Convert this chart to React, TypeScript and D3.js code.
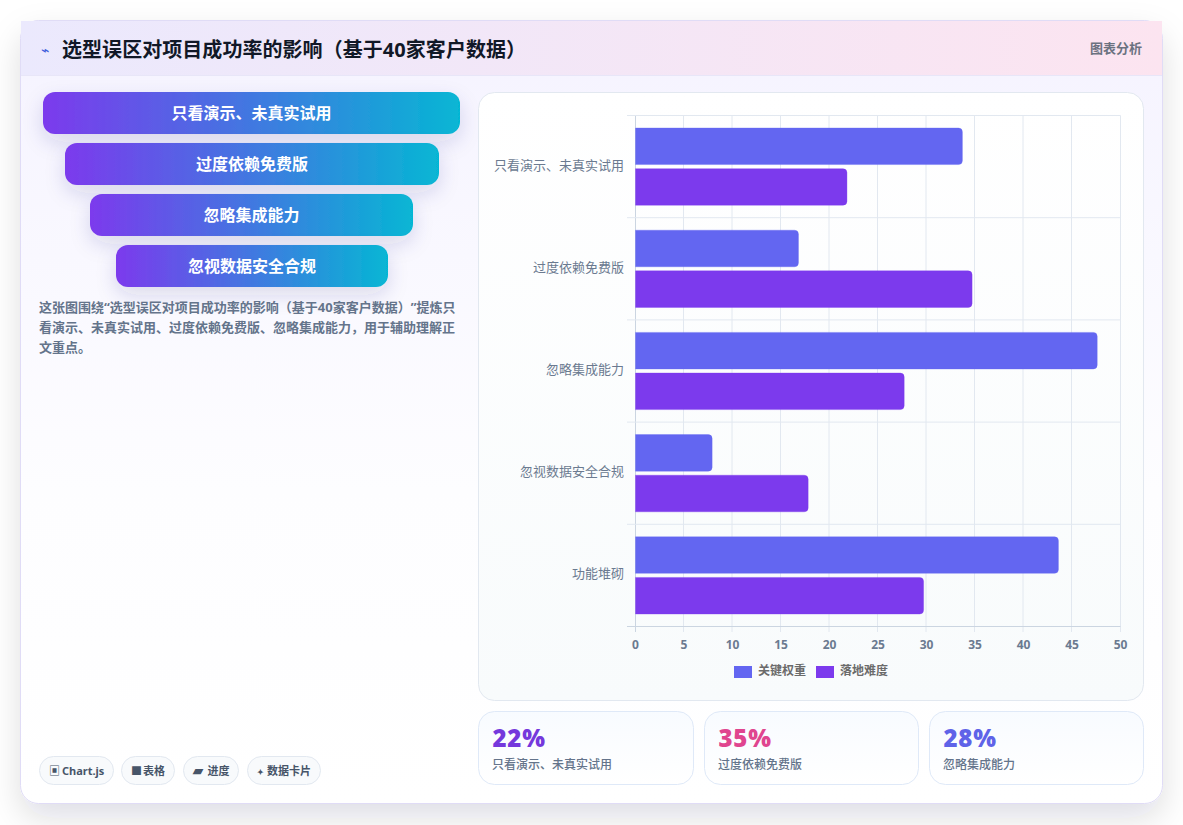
import React from "react";
import * as d3 from "d3";

const categories = ["只看演示、未真实试用", "过度依赖免费版", "忽略集成能力", "忽视数据安全合规", "功能堆砌"];
const seriesNames = ["关键权重", "落地难度"];
const weightValues = [33.7, 16.8, 47.6, 7.9, 43.6];
const difficultyValues = [21.8, 34.7, 27.7, 17.8, 29.7];
const seriesColors = ["#6366f1", "#7c3aed"];
const xTicks = [0, 5, 10, 15, 20, 25, 30, 35, 40, 45, 50];
const funnelLabels = ["只看演示、未真实试用", "过度依赖免费版", "忽略集成能力", "忽视数据安全合规"];
const funnelBoxes = [[43, 417], [65, 374], [90, 323], [116, 272]];
const statValues = ["22%", "35%", "28%"];
const statLabels = ["只看演示、未真实试用", "过度依赖免费版", "忽略集成能力"];
const statColors = ["#7538dc", "#e0458f", "#5f63e8"];
const statBoxes = [[478.5, 215], [704.5, 214], [929.5, 214]];
const chips = [
  { icon: "▣", iconSize: 11, text: "Chart.js", x: 39, w: 74, ix: 49, tx: 62 },
  { icon: "■", iconSize: 11, text: "表格", x: 121, w: 53, ix: 131, tx: 143 },
  { icon: "▰", iconSize: 13, text: "进度", x: 183, w: 55, ix: 193, tx: 207.5 },
  { icon: "✦", iconSize: 8, text: "数据卡片", x: 247, w: 73, ix: 257, tx: 267 },
];
const descLines = [
  "这张图围绕“选型误区对项目成功率的影响（基于40家客户数据）”提炼只",
  "看演示、未真实试用、过度依赖免费版、忽略集成能力，用于辅助理解正",
  "文重点。",
];

const FONT = "'Noto Sans', 'Noto Sans CJK SC', sans-serif";

export default function App() {
  const x = d3.scaleLinear().domain([0, 50]).range([635.5, 1120.5]);
  const y = d3.scaleBand<string>().domain(categories).range([115.5, 626.5]);
  const inner = d3.scaleBand<string>().domain(seriesNames).range([12.5, y.bandwidth() - 12.5]).paddingInner(0.1);
  const values = [weightValues, difficultyValues];
  const barPath = (x0: number, x1: number, yy: number, h: number) => {
    const r = 4;
    return `M${x0},${yy}H${x1 - r}Q${x1},${yy} ${x1},${yy + r}V${yy + h - r}Q${x1},${yy + h} ${x1 - r},${yy + h}H${x0}Z`;
  };
  return (
    <svg width={1183} height={825} style={{ position: "absolute", left: 0, top: 0, fontFamily: FONT, textSpacingTrim: "space-all" } as React.CSSProperties}>
      <defs>
        <linearGradient id="head" x1="0" x2="1" y1="0" y2="0">
          <stop offset="0" stopColor="#ebe9fd" />
          <stop offset="1" stopColor="#fce4f0" />
        </linearGradient>
        <linearGradient id="cardBg" x1="0" x2="0" y1="0" y2="1">
          <stop offset="0" stopColor="#f5f3ff" />
          <stop offset="0.6" stopColor="#fdfdff" />
          <stop offset="1" stopColor="#ffffff" />
        </linearGradient>
        <linearGradient id="panelBg" x1="0" x2="0" y1="0" y2="1">
          <stop offset="0" stopColor="#ffffff" />
          <stop offset="1" stopColor="#f8fbfc" />
        </linearGradient>
        <linearGradient id="statBg" x1="0" x2="0" y1="0" y2="1">
          <stop offset="0" stopColor="#f8fbff" />
          <stop offset="1" stopColor="#ffffff" />
        </linearGradient>
        <linearGradient id="funnel" x1="0" x2="1" y1="0" y2="0">
          <stop offset="0" stopColor="#7c3aed" />
          <stop offset="1" stopColor="#06b6d4" />
        </linearGradient>
        <filter id="cardShadow" x="-10%" y="-10%" width="120%" height="120%">
          <feDropShadow dx="0" dy="14" stdDeviation="16" floodColor="#0f172a" floodOpacity="0.13" />
        </filter>
        <filter id="funnelShadow" x="-15%" y="-60%" width="130%" height="260%">
          <feDropShadow dx="0" dy="8" stdDeviation="10" floodColor="#312e81" floodOpacity="0.15" />
        </filter>
      </defs>
      <rect x={0} y={0} width={1183} height={825} fill="#ffffff" />
      <rect x={20.5} y={20.5} width={1142} height={783} rx={18} fill="url(#cardBg)" stroke="#e0dcf6" filter="url(#cardShadow)" />
      <rect x={21} y={21} width={1141} height={54.5} fill="url(#head)" />
      <line x1={21} x2={1162} y1={75.5} y2={75.5} stroke="#e8e6f8" />
      <text x={41} y={55} fontSize={14} fill="#3b5bdb">⌁</text>
      <text x={62} y={56.5} fontSize={20} fontWeight={700} fill="#111827" letterSpacing={0.05}>选型误区对项目成功率的影响（基于40家客户数据）</text>
      <text x={1142} y={53} fontSize={13} fontWeight={700} fill="#6b7280" textAnchor="end">图表分析</text>

      {funnelLabels.map((label, i) => {
        const [bx, bw] = funnelBoxes[i];
        const by = 92 + i * 51;
        return (
          <g key={label}>
            <rect x={bx} y={by} width={bw} height={42} rx={12} fill="url(#funnel)" filter="url(#funnelShadow)" />
            <text x={bx + bw / 2} y={by + 27} fontSize={16} fontWeight={700} fill="#ffffff" textAnchor="middle">{label}</text>
          </g>
        );
      })}
      {descLines.map((line, i) => (
        <text key={i} x={39} y={312 + i * 20} fontSize={13} fontWeight={700} fill="#64748b">{line}</text>
      ))}
      {chips.map((c) => (
        <g key={c.text}>
          <rect x={c.x + 0.5} y={756.5} width={c.w} height={28} rx={14} fill="#f8fafc" stroke="#e2e8f0" />
          <text x={c.ix} y={775} fontSize={c.iconSize} fontWeight={700} fill="#475569">{c.icon}</text>
          <text x={c.tx} y={775} fontSize={11} fontWeight={700} fill="#475569">{c.text}</text>
        </g>
      ))}

      <rect x={478.5} y={92.5} width={665} height={608} rx={16} fill="url(#panelBg)" stroke="#e2e8f0" />
      {xTicks.map((t) => (
        <g key={t}>
          <line
            x1={t === 0 || t === 50 ? x(t) : x(t) - 0.5}
            x2={t === 0 || t === 50 ? x(t) : x(t) - 0.5}
            y1={115.5}
            y2={632}
            stroke={t === 0 ? "#cbd5e1" : "#e2e8f0"}
          />
          <text x={x(t)} y={649} fontSize={12} fontWeight={700} fill="#6b7a90" textAnchor="middle">{t}</text>
        </g>
      ))}
      {[...categories, ""].map((c, i) => {
        const yy = 115.5 + i * y.step();
        return <line key={i} x1={627} x2={1120.5} y1={yy} y2={yy} stroke={i === 5 ? "#cbd5e1" : "#e2e8f0"} />;
      })}
      {categories.map((c, i) => (
        <g key={c}>
          <text x={624} y={(y(c) as number) + y.bandwidth() / 2 + 3} fontSize={13} fill="#6b7a90" textAnchor="end">{c}</text>
          {seriesNames.map((s, j) => (
            <path
              key={s}
              d={barPath(x(0), x(values[j][i]), (y(c) as number) + (inner(s) as number), inner.bandwidth())}
              fill={seriesColors[j]}
              stroke={seriesColors[j]}
              strokeOpacity={0.35}
            />
          ))}
        </g>
      ))}
      {seriesNames.map((s, j) => {
        const lx = 734 + j * 82;
        return (
          <g key={s}>
            <rect x={lx} y={666} width={18} height={12} fill={seriesColors[j]} />
            <text x={lx + 24} y={675} fontSize={12} fontWeight={700} fill="#6b6b6b">{s}</text>
          </g>
        );
      })}

      {statValues.map((v, i) => {
        const [sx, sw] = statBoxes[i];
        return (
          <g key={v}>
            <rect x={sx} y={711.5} width={sw} height={73} rx={16} fill="url(#statBg)" stroke="#dfe9f8" />
            <text x={sx + 14} y={747} fontSize={24} fontWeight={900} fill={statColors[i]} letterSpacing={0.8}>{v}</text>
            <text x={sx + 13.5} y={769} fontSize={12} fontWeight={500} fill="#64748b">{statLabels[i]}</text>
          </g>
        );
      })}
    </svg>
  );
}
